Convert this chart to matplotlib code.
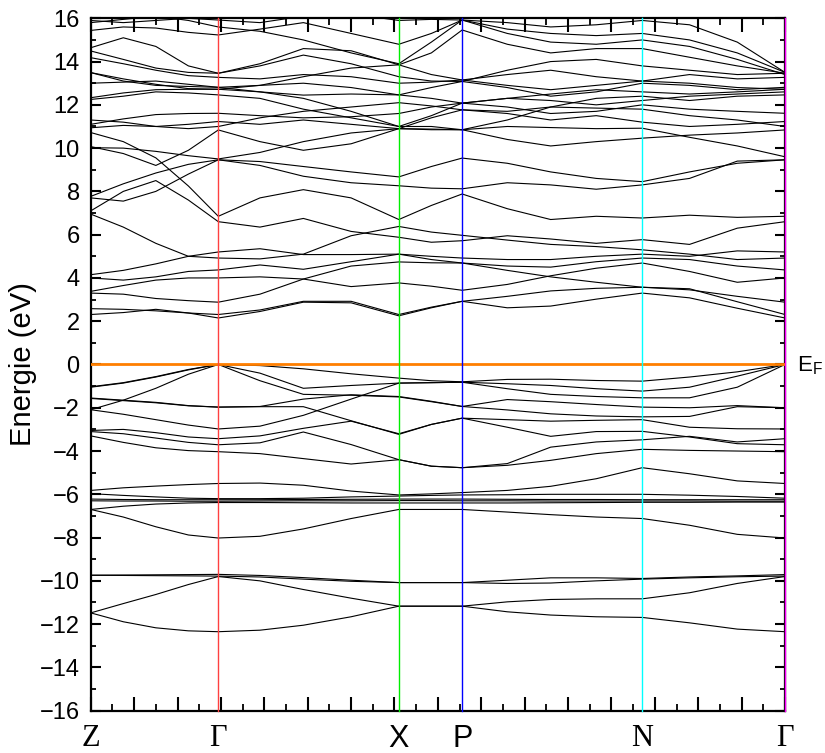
import matplotlib
matplotlib.use("Agg")
import matplotlib.pyplot as plt
from matplotlib.ticker import MultipleLocator

plt.rcParams["mathtext.fontset"] = "custom"
plt.rcParams["mathtext.rm"] = "Liberation Sans"

# k-path sample positions (Z, ..., Gamma, ..., X, ..., P, ..., N, ..., Gamma)
kpts = [0.0, 0.75, 1.5, 2.25, 2.94, 3.9, 4.9, 6.0, 7.10, 7.85, 8.56,
        9.6, 10.6, 11.65, 12.71, 13.8, 14.9, 16.0]

sym_pos = [0.0, 2.94, 7.10, 8.56, 12.71, 16.0]
sym_labels = ["Z", "Γ", "X", "P", "N", "Γ"]
sym_colors = [None, "#ff4040", "#00ee00", "#0000ff", "#00ffff", "#ff00ff"]

# valence bands (eV)
valence = [
    [-1.05, -0.86, -0.58, -0.25, 0.00, -0.05, -0.20, -0.43, -0.63, -0.75, -0.80, -0.69, -0.68, -0.74, -0.77, -0.58, -0.34, 0.00],
    [-1.03, -0.84, -0.56, -0.23, 0.00, -0.40, -1.10, -0.97, -0.86, -0.84, -0.82, -0.89, -0.97, -1.12, -1.23, -1.05, -0.54, 0.00],
    [-2.09, -1.65, -1.10, -0.45, 0.00, -0.75, -1.38, -1.42, -1.50, -1.72, -1.94, -2.10, -2.28, -2.38, -2.42, -2.40, -1.95, -2.00],
    [-1.55, -1.65, -1.75, -1.90, -1.97, -1.94, -1.60, -1.40, -1.48, -1.70, -1.94, -1.62, -1.72, -1.85, -1.97, -2.00, -1.90, -2.00],
    [-2.09, -2.30, -2.55, -2.80, -2.98, -2.85, -2.35, -1.60, -0.86, -0.84, -0.82, -1.12, -1.38, -1.48, -1.54, -1.54, -1.05, 0.00],
    [-1.57, -1.67, -1.77, -1.91, -1.97, -1.95, -1.95, -2.60, -3.23, -2.77, -2.48, -2.55, -2.62, -2.58, -2.55, -2.90, -2.97, -2.98],
    [-3.05, -3.00, -3.15, -3.35, -3.43, -3.30, -2.95, -2.62, -3.20, -2.77, -2.48, -2.90, -3.32, -3.10, -3.09, -3.35, -3.66, -3.71],
    [-3.10, -3.20, -3.40, -3.60, -3.71, -3.62, -3.12, -3.70, -4.40, -4.70, -4.77, -4.58, -3.82, -3.58, -3.48, -3.32, -3.58, -3.43],
    [-3.30, -3.60, -3.85, -3.98, -4.03, -4.12, -4.35, -4.60, -4.40, -4.70, -4.77, -4.66, -4.43, -4.12, -3.92, -3.97, -4.00, -4.03],
    [-5.82, -5.70, -5.62, -5.55, -5.50, -5.48, -5.58, -5.85, -6.03, -5.98, -5.92, -5.82, -5.63, -5.28, -4.77, -5.05, -5.38, -5.50],
    [-5.97, -6.05, -6.12, -6.18, -6.20, -6.20, -6.18, -6.12, -6.08, -6.05, -6.03, -6.02, -6.00, -6.00, -6.00, -6.04, -6.10, -6.18],
    [-6.22, -6.24, -6.25, -6.25, -6.25, -6.25, -6.24, -6.23, -6.22, -6.22, -6.22, -6.23, -6.24, -6.24, -6.25, -6.25, -6.25, -6.25],
    [-6.30, -6.31, -6.31, -6.32, -6.32, -6.31, -6.30, -6.30, -6.29, -6.29, -6.30, -6.30, -6.31, -6.31, -6.31, -6.31, -6.32, -6.32],
    [-6.70, -6.55, -6.45, -6.40, -6.38, -6.38, -6.39, -6.40, -6.40, -6.40, -6.40, -6.40, -6.39, -6.38, -6.37, -6.37, -6.36, -6.36],
    [-6.70, -7.05, -7.50, -7.88, -8.02, -7.94, -7.60, -7.12, -6.70, -6.70, -6.70, -6.82, -6.94, -7.05, -7.12, -7.43, -7.85, -8.02],
    [-9.74, -9.73, -9.72, -9.71, -9.70, -9.75, -9.85, -9.97, -10.08, -10.08, -10.08, -9.97, -9.86, -9.86, -9.89, -9.82, -9.77, -9.71],
    [-9.74, -9.75, -9.76, -9.77, -9.78, -9.82, -9.92, -10.02, -10.08, -10.08, -10.08, -10.12, -10.10, -10.00, -9.92, -9.86, -9.81, -9.78],
    [-11.48, -11.05, -10.63, -10.17, -9.80, -10.00, -10.40, -10.80, -11.17, -11.17, -11.17, -10.97, -10.86, -10.83, -10.83, -10.55, -10.12, -9.80],
    [-11.48, -11.89, -12.17, -12.31, -12.35, -12.28, -12.05, -11.66, -11.17, -11.17, -11.17, -11.43, -11.58, -11.66, -11.69, -11.94, -12.23, -12.35],
]

# conduction bands (eV)
conduction = [
    [2.31, 2.40, 2.55, 2.38, 2.15, 2.45, 2.88, 2.85, 2.25, 2.62, 2.92, 2.62, 2.70, 3.02, 3.30, 3.08, 2.60, 2.15],
    [2.58, 2.55, 2.48, 2.38, 2.31, 2.52, 2.92, 2.92, 2.31, 2.65, 2.92, 3.15, 3.40, 3.52, 3.57, 3.50, 2.90, 2.31],
    [3.30, 3.25, 3.05, 2.95, 2.88, 3.25, 3.95, 4.55, 4.74, 4.70, 4.69, 4.35, 4.05, 3.80, 3.57, 3.45, 3.15, 2.88],
    [3.38, 3.65, 3.90, 4.00, 4.00, 4.05, 3.95, 3.60, 3.77, 3.62, 3.43, 3.70, 4.10, 4.45, 4.69, 4.30, 3.80, 4.00],
    [4.00, 3.90, 4.05, 4.30, 4.37, 4.60, 4.40, 4.75, 5.10, 4.85, 4.69, 4.55, 4.50, 4.75, 4.92, 4.85, 4.55, 4.37],
    [6.95, 6.35, 5.60, 5.00, 4.92, 4.88, 5.10, 5.95, 6.38, 6.12, 5.97, 5.75, 5.55, 5.45, 5.30, 5.10, 4.85, 4.92],
    [4.15, 4.35, 4.65, 5.00, 5.20, 5.35, 5.08, 5.08, 5.10, 5.00, 4.92, 4.85, 4.85, 5.00, 5.10, 5.00, 5.25, 5.20],
    [7.10, 8.00, 8.50, 7.60, 6.60, 6.35, 6.75, 6.15, 5.88, 5.65, 5.72, 5.95, 5.80, 5.60, 5.77, 5.55, 6.30, 6.60],
    [10.72, 10.30, 9.55, 8.25, 6.85, 7.70, 8.08, 7.70, 6.70, 7.35, 7.88, 7.20, 6.70, 6.85, 6.77, 6.90, 6.80, 6.85],
    [7.70, 7.55, 8.00, 8.80, 9.46, 9.38, 9.15, 8.90, 8.67, 9.15, 9.54, 9.30, 8.90, 8.60, 8.45, 8.90, 9.30, 9.46],
    [7.77, 8.35, 8.85, 9.25, 9.46, 9.20, 8.70, 8.40, 8.26, 8.15, 8.12, 8.40, 8.30, 8.10, 8.30, 8.60, 9.40, 9.46],
    [10.07, 9.75, 9.20, 9.90, 10.84, 10.30, 9.90, 10.20, 10.90, 10.85, 10.85, 10.40, 10.10, 10.30, 10.46, 10.60, 10.70, 10.84],
    [10.02, 10.00, 9.85, 9.65, 9.50, 9.80, 10.30, 10.70, 10.90, 10.88, 10.85, 11.00, 10.95, 10.90, 10.92, 10.50, 10.10, 9.60],
    [10.94, 11.05, 11.00, 11.10, 11.23, 11.10, 11.30, 11.10, 10.90, 11.40, 11.77, 11.60, 11.30, 11.50, 11.20, 11.00, 11.10, 11.23],
    [11.10, 11.35, 11.55, 11.60, 11.61, 11.50, 11.40, 11.45, 11.60, 11.90, 12.08, 11.90, 11.60, 11.70, 12.00, 11.80, 11.70, 11.61],
    [11.30, 11.20, 11.00, 10.90, 11.00, 11.40, 11.70, 11.90, 12.10, 11.95, 11.77, 11.70, 11.90, 11.85, 11.80, 11.50, 11.30, 11.00],
    [12.25, 12.40, 12.60, 12.55, 12.46, 12.30, 11.80, 11.40, 11.00, 11.00, 10.85, 11.30, 11.90, 12.30, 12.40, 12.20, 12.40, 12.46],
    [12.33, 12.55, 12.70, 12.72, 12.72, 12.60, 12.30, 11.70, 11.00, 11.50, 12.08, 12.30, 12.50, 12.70, 12.60, 12.50, 12.60, 12.72],
    [13.00, 13.05, 13.10, 12.95, 12.81, 12.60, 12.45, 12.50, 12.46, 12.30, 12.08, 12.30, 12.20, 12.00, 12.20, 12.40, 12.50, 12.60],
    [13.49, 13.10, 12.90, 12.85, 12.81, 12.90, 13.00, 12.80, 12.46, 12.80, 13.08, 12.80, 12.40, 12.60, 13.00, 12.90, 12.70, 12.81],
    [13.49, 13.20, 12.95, 12.75, 12.72, 12.90, 13.30, 13.70, 13.85, 13.40, 13.15, 12.90, 12.70, 12.90, 13.10, 13.00, 12.80, 12.72],
    [14.18, 13.90, 13.60, 13.35, 13.27, 13.20, 13.40, 13.30, 13.00, 13.05, 13.15, 13.40, 13.60, 13.30, 13.10, 13.40, 13.20, 13.27],
    [14.49, 14.10, 13.70, 13.50, 13.46, 13.80, 14.30, 13.90, 13.30, 13.10, 13.08, 13.60, 14.00, 14.10, 13.80, 13.60, 13.40, 13.46],
    [14.64, 15.10, 14.70, 13.80, 13.46, 13.90, 14.60, 14.50, 13.85, 14.40, 15.46, 14.80, 14.40, 14.60, 14.60, 14.20, 13.80, 13.46],
    [15.44, 15.60, 15.55, 15.35, 15.23, 15.50, 15.80, 15.30, 14.80, 15.30, 15.92, 15.50, 15.30, 15.20, 15.30, 15.00, 14.40, 13.50],
    [15.80, 15.95, 16.10, 15.90, 15.60, 15.40, 15.00, 14.40, 13.90, 14.90, 15.92, 15.30, 14.90, 14.80, 15.00, 14.70, 14.10, 13.40],
    [15.90, 15.80, 15.90, 16.00, 15.92, 15.80, 16.10, 16.20, 15.90, 15.95, 15.92, 15.80, 15.60, 15.70, 15.90, 15.70, 14.90, 13.50],
]

fermi = 0.0

fig = plt.figure(figsize=(8.25, 7.53), dpi=100)
ax = fig.add_axes([0.110, 0.0562, 0.8415, 0.9195])

for band in valence + conduction:
    ax.plot(kpts, band, color="black", lw=0.8, solid_joinstyle="round")

ax.axhline(fermi, color="#ff7f00", lw=2.0, zorder=3)

for pos, col in zip(sym_pos, sym_colors):
    if col is not None:
        ax.axvline(pos, color=col, lw=1.0, zorder=5, clip_on=False)

ax.set_xlim(0, 16)
ax.set_ylim(-16, 16)

ax.xaxis.set_major_locator(MultipleLocator(1))
ax.xaxis.set_minor_locator(MultipleLocator(0.5))
ax.yaxis.set_major_locator(MultipleLocator(2))
ax.yaxis.set_minor_locator(MultipleLocator(1))
ax.tick_params(axis="x", which="major", direction="in", length=10, width=1.5,
               top=True, bottom=True, labelbottom=False)
ax.tick_params(axis="x", which="minor", direction="in", length=5, width=1.3,
               top=True, bottom=True)
ax.tick_params(axis="y", which="major", direction="in", length=7.5, width=1.5,
               left=True, right=True, pad=8, labelsize=17)
ax.tick_params(axis="y", which="minor", direction="in", length=3.8, width=1.3,
               left=True, right=True)
for lab in ax.get_yticklabels():
    lab.set_fontfamily("Liberation Sans")
for sp in ax.spines.values():
    sp.set_linewidth(1.6)

ax.set_ylabel("Energie (eV)", fontsize=21, family="Liberation Sans", labelpad=2)

serif = {"Z", "Γ", "N"}
for pos, lab in zip(sym_pos, sym_labels):
    fam = "Liberation Serif" if lab in serif else "Liberation Sans"
    ax.text(pos, -16.6, lab, ha="center", va="top", fontsize=22, family=fam,
            transform=ax.transData, clip_on=False)

# Fermi level marker on the right
fig.text(797 / 825, 1 - 366 / 753, r"E$_{\rm F}$", ha="left", va="center",
         fontsize=16, family="Liberation Sans")

fig.savefig("out.png", dpi=100)
